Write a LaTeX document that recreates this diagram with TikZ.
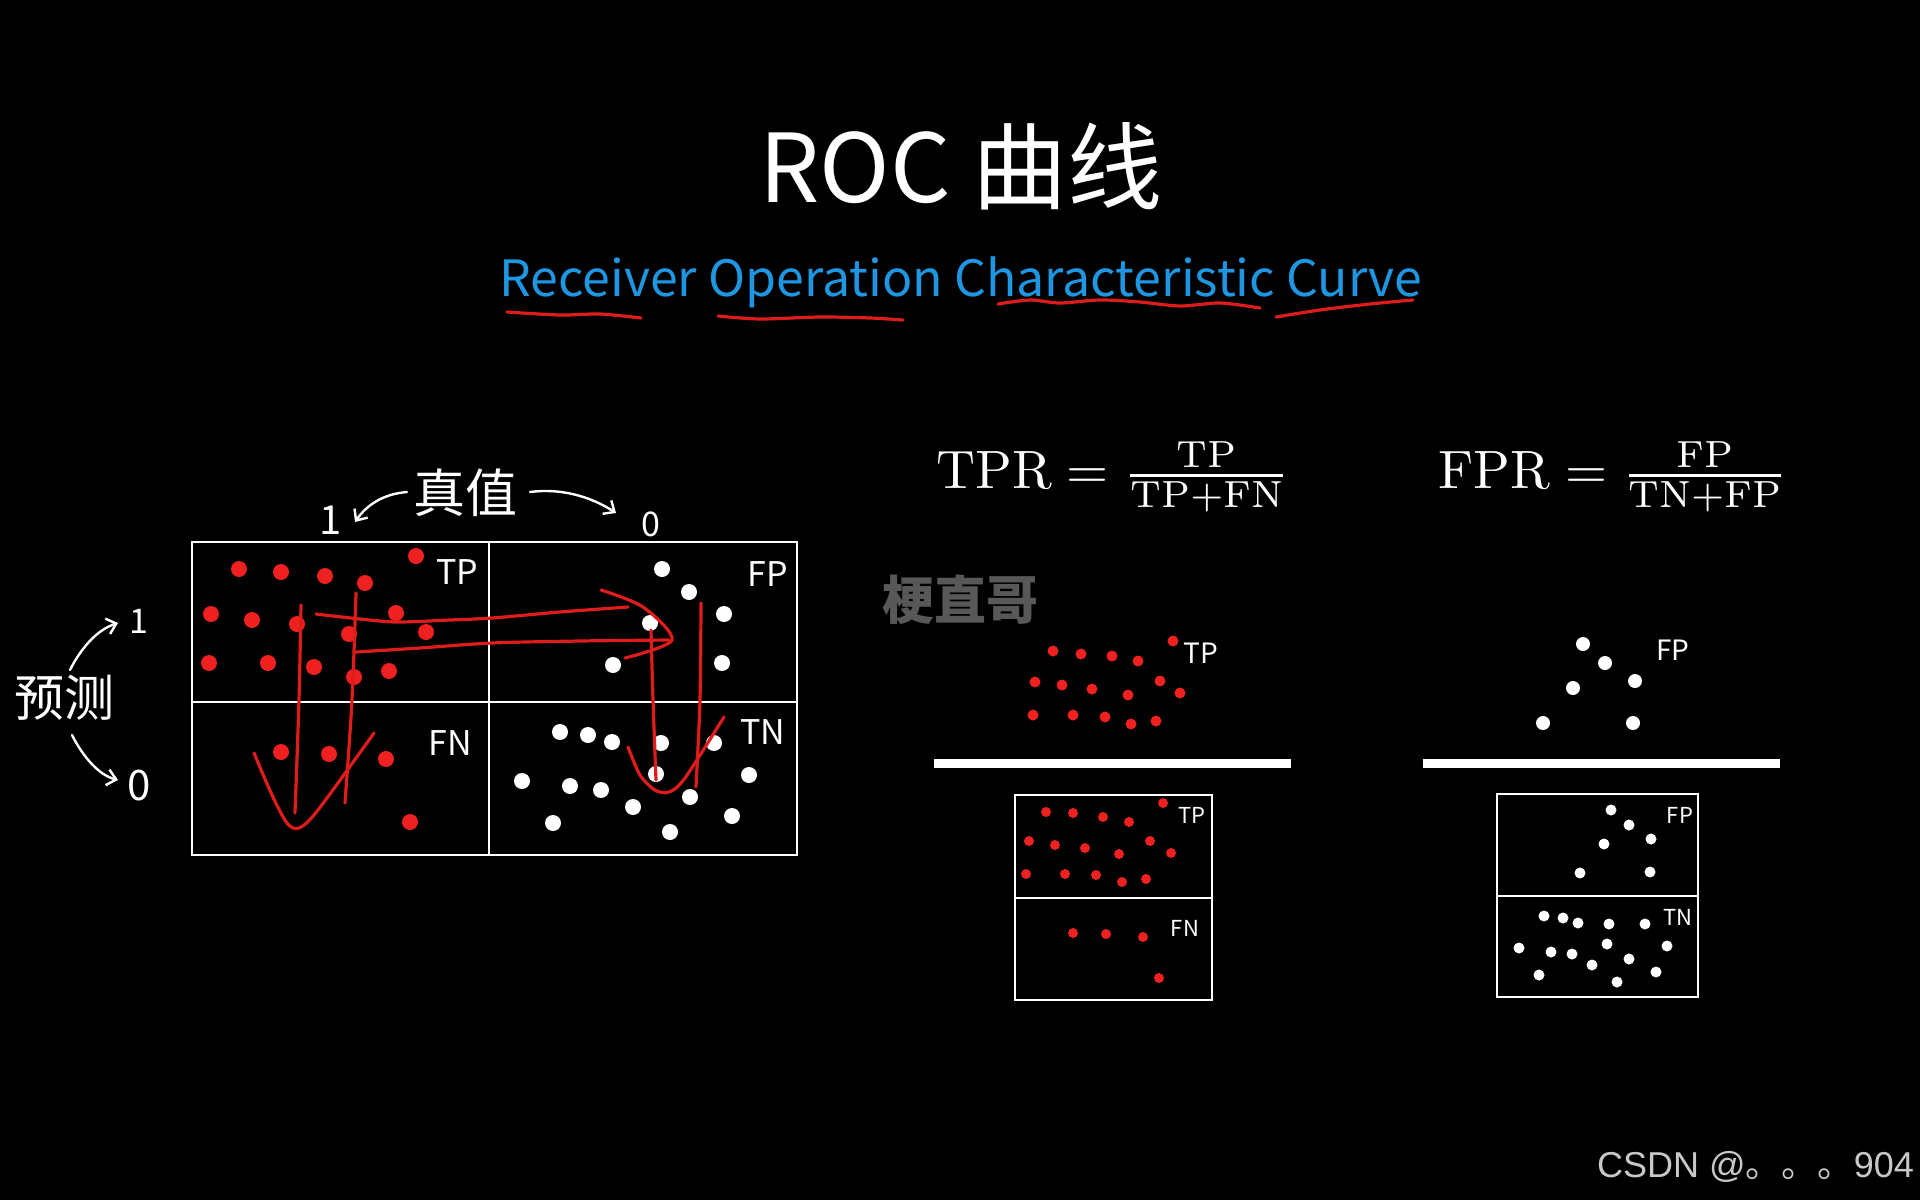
\documentclass[tikz,border=0pt]{standalone}
\usepackage{fontspec}
\newfontfamily\cjk{Noto Sans CJK SC}
\newfontfamily\arialike{Liberation Sans}
\usetikzlibrary{arrows.meta}
\definecolor{subblue}{RGB}{30,150,225}
\definecolor{dotred}{RGB}{238,32,32}
\definecolor{penred}{RGB}{222,28,28}
\definecolor{wmgray}{RGB}{88,88,88}
\definecolor{footgray}{RGB}{200,200,200}
\tikzset{
  pen/.style={draw=penred, line width=3.2pt, line cap=round, line join=round},
  chalk/.style={draw=white, line width=2.6pt, line cap=round},
  hand/.style={text=white, font=\cjk\fontsize{#1}{#1}\selectfont, inner sep=0pt},
  harrow/.style={draw=white, line width=2.4pt, line cap=round, -{Straight Barb[length=9pt,width=16pt,line width=2.4pt]}},
  formula/.style={text=white, scale=5.4, inner sep=0pt},
  bar/.style={fill=white}
}
\begin{document}
\begin{tikzpicture}[x=1pt,y=-1pt]
\fill[black] (0,0) rectangle (1920,1200);
\useasboundingbox (0,0) rectangle (1920,1200);

% title
\node[text=white, font=\cjk\fontsize{95}{95}\selectfont, inner sep=0pt] (title) at (961,166) {ROC 曲线};
\node[text=subblue, font=\cjk\fontsize{50}{50}\selectfont, inner sep=0pt] (sub) at (961,282) {Receiver Operation Characteristic Curve};
% red underlines
\draw[pen] plot[smooth] coordinates {(507,312) (560,315) (600,314) (641,318)};
\draw[pen] plot[smooth] coordinates {(718,316) (760,319) (820,317) (870,318) (903,320)};
\draw[pen] plot[smooth] coordinates {(998,304) (1030,300) (1060,303) (1100,300) (1140,302) (1180,306) (1220,303) (1260,308)};
\draw[pen] plot[smooth] coordinates {(1276,317) (1320,310) (1370,304) (1413,300)};

% left confusion matrix
\draw[chalk] (192,542) rectangle (797,855);
\draw[chalk] (489,542) -- (489,855);
\draw[chalk] (192,702) -- (797,702);
\node[hand=34] (lTP) at (457,572) {TP};
\node[hand=34] (lFP) at (768,574) {FP};
\node[hand=34] (lFN) at (450,743) {FN};
\node[hand=34] (lTN) at (763,732) {TN};

\foreach \p in {(239,569),(281,572),(325,576),(365,583),(416,556),(211,614),(252,620),(297,624),(349,634),(396,613),(426,632),(209,663),(268,663),(314,667),(354,677),(389,671),(281,752),(329,754),(386,759),(410,822)}
  \fill[dotred] \p circle (8);
\foreach \p in {(662,569),(689,592),(724,614),(650,623),(613,665),(722,663),(560,732),(588,735),(612,742),(661,743),(714,743),(522,781),(570,786),(601,790),(656,774),(690,797),(749,775),(633,807),(732,816),(553,823),(670,832)}
  \fill[white] \p circle (8);

% red strokes on matrix
\draw[pen] plot[smooth] coordinates {(301,605) (299,700) (295,813)};
\draw[pen] plot[smooth] coordinates {(356,593) (352,700) (345,803)};
\draw[pen] plot[smooth] coordinates {(254,753) (272,795) (287,823) (299,828) (318,810) (374,733)};
\draw[pen] plot[smooth] coordinates {(316,614) (360,619) (397,622) (450,620) (492,618) (560,612) (628,607)};
\draw[pen] plot[smooth] coordinates {(601,590) (643,607) (672,640) (625,658)};
\draw[pen] plot[smooth] coordinates {(356,652) (420,648) (492,643) (580,641) (669,640)};
\draw[pen] plot[smooth] coordinates {(651,630) (653,700) (656,780)};
\draw[pen] plot[smooth] coordinates {(701,603) (700,700) (696,787)};
\draw[pen] plot[smooth] coordinates {(628,747) (640,775) (655,790) (669,792) (685,778) (724,717)};

% handwritten axis labels
\node[hand=52] (zhen) at (465,493) {真值};
\node[hand=40] (one1) at (331,520) {1};
\node[hand=34] (zero1) at (651,524) {0};
\coordinate (zl) at (407,492);
\coordinate (zle) at (355,522);
\coordinate (zr) at (530,492);
\coordinate (zre) at (616,513);
\draw[harrow] (zl) .. controls (382,494) and (366,506) .. (zle);
\draw[harrow] (zr) .. controls (560,488) and (590,496) .. (zre);

\node[hand=50] (yuce) at (64,698) {预测};
\node[hand=34] (one2) at (139,621) {1};
\node[hand=42] (zero2) at (139,786) {0};
\coordinate (yu) at (70,670);
\coordinate (yue) at (118,623);
\coordinate (yd) at (72,735);
\coordinate (yde) at (118,780);
\draw[harrow] (yu) .. controls (80,650) and (96,630) .. (yue);
\draw[harrow] (yd) .. controls (82,755) and (98,775) .. (yde);

% formulas
\node[formula] (tpr) at (1113,477) {$\mathrm{TPR}=\frac{\mathrm{TP}}{\mathrm{TP+FN}}$};
\node[formula] (fpr) at (1613,477) {$\mathrm{FPR}=\frac{\mathrm{FP}}{\mathrm{TN+FP}}$};

% watermark
\node[text=wmgray, font=\cjk\bfseries\fontsize{52}{52}\selectfont, inner sep=0pt] (wm) at (960,600) {梗直哥};

% middle clusters
\node[hand=28] (cTP) at (1201,653) {TP};
\foreach \p in {(1053,651),(1081,654),(1112,656),(1138,661),(1173,641),(1035,682),(1062,685),(1092,689),(1128,695),(1160,681),(1180,693),(1033,715),(1073,715),(1105,717),(1131,724),(1156,721)}
  \fill[dotred] \p circle (5.5);
\node[hand=28] (cFP) at (1673,650) {FP};
\foreach \p in {(1583,644),(1605,663),(1573,688),(1635,681),(1543,723),(1633,723)}
  \fill[white] \p circle (7);

% bars
\fill[bar] (934,759) rectangle (1291,768);
\fill[bar] (1423,759) rectangle (1780,768);

% lower left box
\draw[white, line width=2.4pt] (1015,795) rectangle (1212,1000);
\draw[white, line width=2.4pt] (1015,898) -- (1212,898);
\node[hand=22] (bTP) at (1192,815) {TP};
\node[hand=22] (bFN) at (1185,928) {FN};
\foreach \p in {(1046,812),(1073,813),(1103,817),(1129,822),(1163,803),(1029,841),(1055,845),(1085,848),(1119,854),(1150,841),(1171,853),(1026,874),(1065,874),(1096,875),(1122,882),(1146,879),(1073,933),(1106,934),(1143,937),(1159,978)}
  \fill[dotred] \p circle (5);

% lower right box
\draw[white, line width=2.4pt] (1497,794) rectangle (1698,997);
\draw[white, line width=2.4pt] (1497,896) -- (1698,896);
\node[hand=22] (bFP) at (1680,815) {FP};
\node[hand=22] (bTN) at (1678,917) {TN};
\foreach \p in {(1611,810),(1629,825),(1604,844),(1651,839),(1580,873),(1650,872),(1544,916),(1563,918),(1578,923),(1609,924),(1645,924),(1519,948),(1551,952),(1572,954),(1607,944),(1592,965),(1629,959),(1667,946),(1539,975),(1617,982),(1656,972)}
  \fill[white] \p circle (5.5);

% footer
\node[text=footgray, font=\arialike\fontsize{36}{36}\selectfont, inner sep=0pt, anchor=east] (foot) at (1914,1167) {CSDN @{\cjk 。。。}904};
\end{tikzpicture}
\end{document}
